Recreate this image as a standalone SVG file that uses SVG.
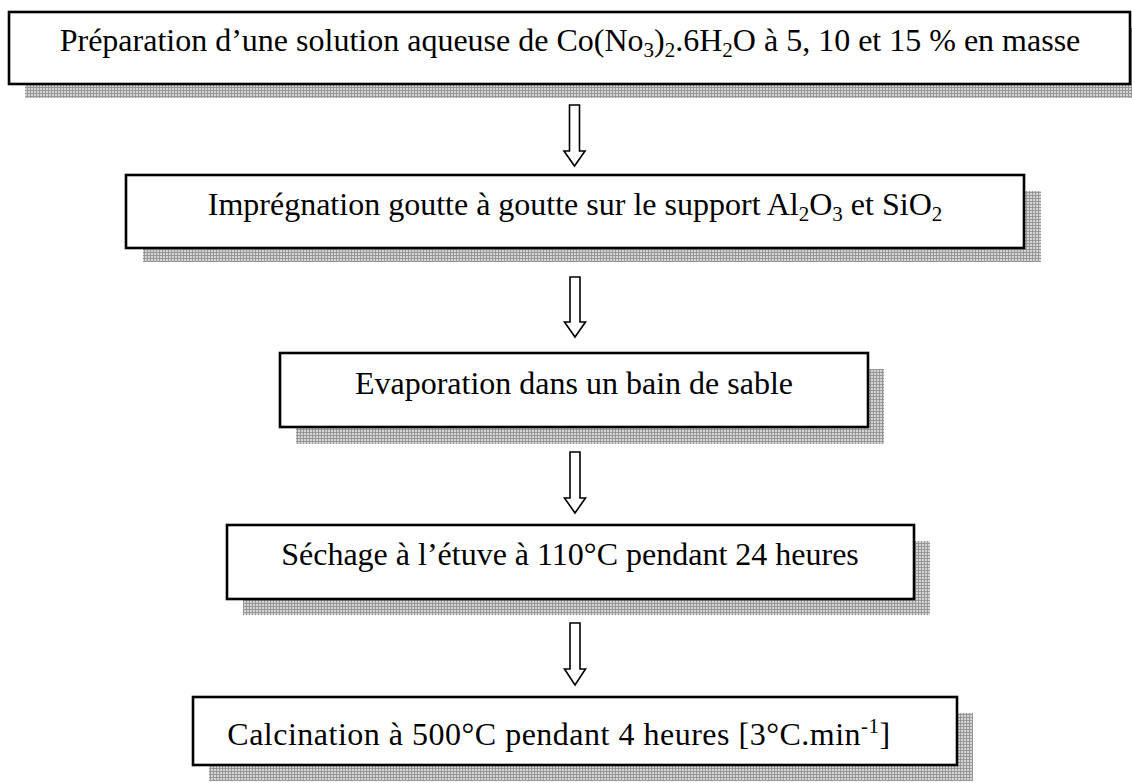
<svg xmlns="http://www.w3.org/2000/svg" width="1132" height="783" viewBox="0 0 1132 783">
  <defs>
    <!-- fine grey grid used for the drop shadows -->
    <pattern id="grid" width="3" height="3" patternUnits="userSpaceOnUse">
      <rect width="3" height="3" fill="#d6d6d6"/>
      <path d="M0 0.5H3M0.5 0V3" stroke="#969696" stroke-width="1"/>
    </pattern>
    <style>
      .shadow { fill: url(#grid); }
      .box { fill: #ffffff; stroke: #000000; stroke-width: 2.6; }
      .label { font-family: "Liberation Serif", "Times New Roman", serif; font-size: 32px; fill: #000000; text-anchor: middle; }
      .sub { font-size: 21px; }
      .arrow { fill: #ffffff; stroke: #000000; stroke-width: 1.6; stroke-linejoin: miter; }
    </style>
  </defs>

  <rect width="1132" height="783" fill="#ffffff"/>

  <!-- step 1 -->
  <g id="step-preparation">
    <rect class="shadow" x="25" y="28" width="1107" height="70"/>
    <rect class="box" x="9" y="12" width="1121" height="72"/>
    <text class="label" x="570" y="51">Préparation d’une solution aqueuse de Co(No<tspan class="sub" dy="6">3</tspan><tspan dy="-6">)</tspan><tspan class="sub" dy="6">2</tspan><tspan dy="-6">.6H</tspan><tspan class="sub" dy="6">2</tspan><tspan dy="-6">O à 5, 10 et 15 % en masse</tspan></text>
  </g>

  <!-- step 2 -->
  <g id="step-impregnation">
    <rect class="shadow" x="143" y="191" width="898" height="71"/>
    <rect class="box" x="126" y="175" width="898" height="73"/>
    <text class="label" x="575" y="215">Imprégnation goutte à goutte sur le support Al<tspan class="sub" dy="6">2</tspan><tspan dy="-6">O</tspan><tspan class="sub" dy="6">3</tspan><tspan dy="-6"> et SiO</tspan><tspan class="sub" dy="6">2</tspan></text>
  </g>

  <!-- step 3 -->
  <g id="step-evaporation">
    <rect class="shadow" x="296" y="369" width="588" height="75"/>
    <rect class="box" x="280" y="353" width="588" height="74"/>
    <text class="label" x="574" y="394">Evaporation dans un bain de sable</text>
  </g>

  <!-- step 4 -->
  <g id="step-sechage">
    <rect class="shadow" x="243" y="541" width="687" height="74"/>
    <rect class="box" x="227" y="525" width="687" height="74"/>
    <text class="label" x="570" y="565">Séchage à l’étuve à 110°C pendant 24 heures</text>
  </g>

  <!-- step 5 -->
  <g id="step-calcination">
    <rect class="shadow" x="209" y="713" width="764" height="68"/>
    <rect class="box" x="193" y="697" width="764" height="68"/>
    <text class="label" x="559" y="745" letter-spacing="0.5">Calcination à 500°C pendant 4 heures [3°C.min<tspan class="sub" dy="-12">-1</tspan><tspan dy="12">]</tspan></text>
  </g>

  <!-- hollow down arrows between steps -->
  <g id="connectors">
    <polygon class="arrow" points="569.5,105 579.5,105 579.5,151 585,151 574.5,166 564,151 569.5,151"/>
    <polygon class="arrow" points="570,277 580,277 580,322 585.5,322 575,337 564.5,322 570,322"/>
    <polygon class="arrow" points="570,452 580,452 580,498 585.5,498 575,513 564.5,498 570,498"/>
    <polygon class="arrow" points="570,623 580,623 580,669 585.5,669 575,685 564.5,669 570,669"/>
  </g>
</svg>
